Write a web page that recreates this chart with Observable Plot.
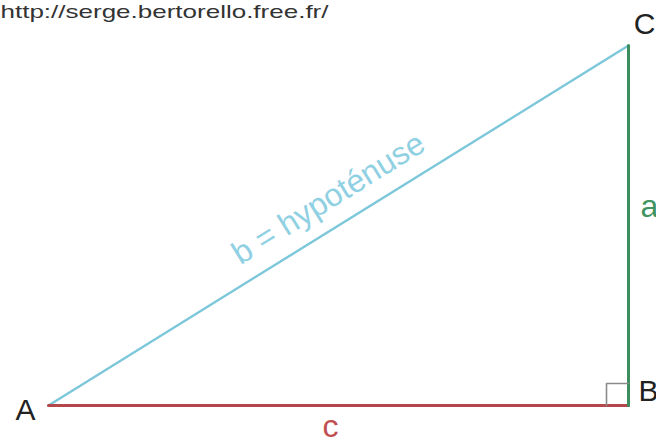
<!DOCTYPE html>
<html>
<head>
<meta charset="utf-8">
<script src="https://cdn.jsdelivr.net/npm/d3@7"></script>
<script src="https://cdn.jsdelivr.net/npm/@observablehq/plot@0.6"></script>
<style>
  html, body { margin: 0; padding: 0; background: #fff; }
  #chart { width: 656px; height: 439px; overflow: hidden; }
</style>
</head>
<body>
<div id="chart"></div>
<script>
// ---- data ----
const vertexNames = ["A", "B", "C"];
const vertexX = [0, 29, 29];
const vertexY = [0, 0, 18];
const sideLabels = ["c", "a", "b = hypoténuse"]; // AB, BC, AC
const urlText = "http://serge.bertorello.free.fr/";
const rightAngleSize = 1.1;

const V = vertexNames.map((name, i) => ({name, x: vertexX[i], y: vertexY[i]}));
const [A, B, C] = V;
const mid = (p, q) => ({x: (p.x + q.x) / 2, y: (p.y + q.y) / 2});
const square = [
  {x: B.x - rightAngleSize, y: B.y},
  {x: B.x - rightAngleSize, y: B.y + rightAngleSize},
  {x: B.x, y: B.y + rightAngleSize}
];
const hypAngle = -Math.atan2(C.y - A.y, C.x - A.x) * 180 / Math.PI;

const font = "'Liberation Sans', Arial, sans-serif";

const chart = Plot.plot({
  width: 656,
  height: 439,
  margin: 0,
  x: {domain: [-2.4, 30.4], axis: null},
  y: {domain: [-1.7, 20.25], axis: null},
  style: {background: "white", fontFamily: font},
  marks: [
    Plot.line([A, C], {x: "x", y: "y", stroke: "#7cc7da", strokeWidth: 2.4}),
    Plot.line([A, B], {x: "x", y: "y", stroke: "#b5474a", strokeWidth: 3}),
    Plot.line([B, C], {x: "x", y: "y", stroke: "#3d8e5e", strokeWidth: 3}),
    Plot.line(square, {x: "x", y: "y", stroke: "#8a8a8a", strokeWidth: 1.6}),
    Plot.text([A], {x: "x", y: "y", text: "name", dx: -23, dy: 5, fontSize: 30, fill: "#222"}),
    Plot.text([B], {x: "x", y: "y", text: "name", dx: 20, dy: -14, fontSize: 30, fill: "#222"}),
    Plot.text([C], {x: "x", y: "y", text: "name", dx: 16, dy: -21, fontSize: 30, fill: "#222"}),
    Plot.text([{...mid(A, B), t: sideLabels[0]}], {x: "x", y: "y", text: "t", dx: -8, dy: 21, fontSize: 32, fill: "#c0504f"}),
    Plot.text([{...mid(B, C), t: sideLabels[1]}], {x: "x", y: "y", text: "t", dx: 21, dy: -19, fontSize: 32, fill: "#3f9462"}),
    Plot.text([{...mid(A, C), t: sideLabels[2]}], {x: "x", y: "y", text: "t", dx: -10, dy: -27, rotate: hypAngle, fontSize: 32, fill: "#8fd0e3"}),
    Plot.text([urlText], {frameAnchor: "top-left", text: d => d, dx: 0, dy: 4, fontSize: 19, fill: "#333", className: "url"})
  ]
});

d3.select(chart).selectAll(".url text")
  .attr("textLength", 328)
  .attr("lengthAdjust", "spacingAndGlyphs");

document.getElementById("chart").appendChild(chart);
</script>
</body>
</html>
